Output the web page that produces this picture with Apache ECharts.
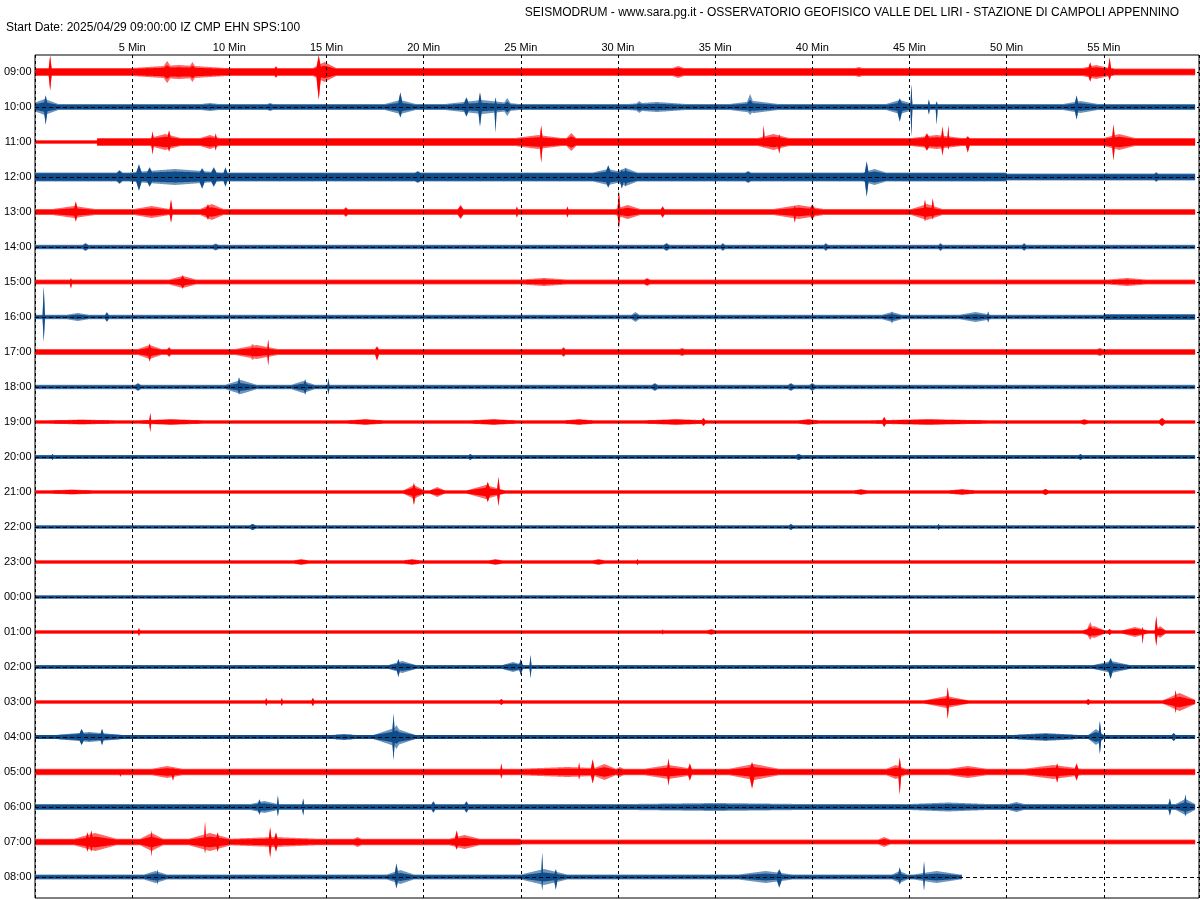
<!DOCTYPE html>
<html>
<head>
<meta charset="utf-8">
<script src="https://cdn.jsdelivr.net/npm/echarts@6/dist/echarts.min.js"></script>
<style>
html,body{margin:0;padding:0;background:#fff;}
#chart{width:1200px;height:900px;}
</style>
</head>
<body>
<div id="chart"></div>
<script>
const hourLabels = ['09:00','10:00','11:00','12:00','13:00','14:00','15:00','16:00','17:00','18:00','19:00','20:00',
                    '21:00','22:00','23:00','00:00','01:00','02:00','03:00','04:00','05:00','06:00','07:00','08:00'];
const minuteTicks = [5,10,15,20,25,30,35,40,45,50,55];
// minute at which each hourly trace stops
const traceEnd = [59.7,59.7,59.7,59.7,59.7,59.7,59.7,59.7,59.7,59.7,59.7,59.7,
                  59.7,59.7,59.7,59.7,59.7,59.7,59.7,59.7,59.7,59.7,59.7,47.7];
// background noise half-amplitude per trace: [fromMinute, amplitude]
const noiseLevels = [
  [[0,4],[55.5,3.5]], [[0,3]], [[0,1.6],[3.2,4]], [[0,4.5],[50,3.5]],
  [[0,3]], [[0,2.3]], [[0,2.5]], [[0,2.3],[55,3]],
  [[0,3]], [[0,2.3]], [[0,1.5]], [[0,1.7]],
  [[0,1.5]], [[0,1.6]], [[0,1.4]], [[0,1.6]],
  [[0,1.4]], [[0,1.7]], [[0,1.4]], [[0,1.9]],
  [[0,3.2]], [[0,3]], [[0,3.2],[25,2.6]], [[0,2.5]]
];
// seismic bursts per trace: [centreMinute, durationMinutes, amplitudeUp, amplitudeDown(optional)]
const ev09 = [[0.78,0.15,17,19],[7.4,4.8,7],[6.8,0.5,11],[8.1,0.4,10],[12.4,0.15,6],[14.6,0.25,17,28],[14.9,1.2,10],[33.1,0.6,6],[42.4,0.4,5],[54.6,1.4,7],[54.3,0.2,10],[55.3,0.15,15,9]];
const ev10 = [[0.5,1.4,8],[0.55,0.2,12,18],[9.0,0.9,4],[12.1,0.3,4],[18.8,1.6,7],[18.8,0.25,15,11],[23,3.8,7],[22.2,0.3,10],[22.9,0.2,15,20],[23.7,0.12,10,26],[24.3,0.4,9],[31.1,0.4,6],[32,3,5],[37,2.5,6],[36.8,0.4,13,8],[44.5,1.4,7],[44.5,0.3,9,15],[45.1,0.1,23,30],[46.0,0.1,8],[46.4,0.1,6,18],[53.8,1.8,6],[53.6,0.2,12,13]];
const ev11 = [[6.7,1.6,8],[6.05,0.12,11,13],[6.9,0.2,12,10],[9.0,1.0,7],[9.3,0.12,9],[25.9,2.4,7],[26.05,0.15,17,21],[27.6,0.5,9],[38.0,1.6,8],[37.5,0.1,17,6],[38.3,0.15,8,12],[46.4,2.6,7],[45.9,0.3,9],[46.7,0.15,16,14],[47.0,0.1,17,8],[48.0,0.2,6,11],[55.8,1.6,8],[55.5,0.15,18,19]];
const ev12 = [[4.35,0.3,7],[7.2,4.8,8],[5.35,0.3,13,14],[5.9,0.3,10],[8.6,0.3,9,12],[9.2,0.3,10],[9.8,0.2,10],[19.7,0.3,6],[29.5,1.6,8],[29.5,0.3,12,11],[30.4,1.2,9],[30.2,0.2,8,12],[30.4,0.15,10],[36.7,0.3,6],[43.2,1.2,8],[42.8,0.2,16,20],[57.7,0.2,5]];
const ev13 = [[2.0,2.2,6],[2.1,0.2,11,10],[6.0,1.8,6],[7.0,0.15,13,11],[9.1,1.2,8],[8.9,0.3,8],[16.0,0.2,5],[21.9,0.3,7],[24.8,0.1,6],[27.4,0.1,6],[30.5,1.3,7],[30.05,0.15,22,17],[32.3,0.2,6],[39.3,2.6,7],[39.1,0.15,7,11],[40.0,0.3,8],[45.9,1.6,8],[45.8,0.15,13,10],[46.2,0.15,14,8]];
const ev14 = [[2.6,0.3,4],[9.3,0.3,3.5],[32.5,0.3,4],[35.4,0.2,4],[40.7,0.2,4],[46.6,0.2,4],[50.9,0.2,4]];
const ev15 = [[1.85,0.1,4,7],[7.6,1.4,6],[7.6,0.3,7],[26.2,2.4,4],[31.5,0.3,4],[40.0,0.1,3,5],[56.2,2,4]];
const ev16 = [[0.45,0.12,31,25],[2.2,1.1,4],[3.7,0.2,5],[30.9,0.4,5],[44.1,1,5],[44.1,0.1,6,7],[48.4,1.6,5],[49.05,0.1,6]];
const ev17 = [[5.9,1.2,7],[5.9,0.2,9,10],[6.9,0.2,5],[11.4,2.2,7],[11.2,0.5,8],[12.0,0.1,13,14],[17.6,0.2,6,9],[27.2,0.2,5],[33.3,0.3,4],[54.8,0.3,4]];
const ev18 = [[5.3,0.3,4],[10.6,1.6,7],[10.5,0.2,10,8],[13.8,1.2,6],[13.9,0.2,8],[15.1,0.1,9,8],[31.9,0.3,4],[38.9,0.3,4],[40.0,0.3,4]];
const ev19 = [[2.4,3.8,2.5],[7,3.5,3],[5.93,0.1,9,10],[17,2,3],[23.6,2.5,3],[28,1.6,3],[33,3.5,3],[34.4,0.2,4],[39.8,1.1,3],[46,6.5,3],[43.7,0.2,5],[54,0.4,3],[58,0.3,4]];
const ev20 = [[0.9,0.1,3],[22.4,0.2,3],[39.3,0.3,3],[53.8,0.2,3]];
const ev21 = [[1.9,2.4,2.5],[19.5,1.1,7],[19.5,0.2,9,13],[20.7,0.8,5],[23.2,2,7],[23.3,0.3,10],[23.85,0.15,15,14],[42.5,0.7,3],[47.7,1.4,3],[52,0.3,3]];
const ev22 = [[11.2,0.3,3],[38.9,0.2,3],[46.5,0.1,3]];
const ev23 = [[13.7,0.9,3],[19.4,1,3],[23.7,0.8,3],[29,0.7,3],[31,0.1,3]];
const ev00 = [];
const ev01 = [[5.35,0.1,4],[32.3,0.1,2.5],[34.8,0.5,3],[54.5,1.2,6],[54.3,0.4,10,8],[55.3,0.2,3],[56.6,1.4,5],[57.0,0.1,5,12],[57.7,0.15,16,14],[57.9,0.6,6]];
const ev02 = [[18.9,1.5,6],[18.7,0.2,8,10],[24.6,1.2,5],[25.0,0.2,8],[25.5,0.1,12,11],[55.4,2,6],[55.35,0.3,9,12]];
const ev03 = [[11.9,0.1,4],[12.7,0.1,4],[14.3,0.15,4],[24,0.2,3],[46.9,2.4,6],[46.97,0.15,15,17],[54.2,0.2,3],[58.9,1.8,9],[58.7,0.15,12,11]];
const ev04 = [[2.8,3.6,5],[2.4,0.3,8],[3.45,0.2,8],[15.9,1.4,3],[18.5,2.2,9],[18.6,0.6,12],[18.45,0.15,23,23],[52,3.6,4],[54.6,0.8,8],[54.8,0.15,16,17],[58.6,0.2,4]];
const ev05 = [[4.4,0.1,3,5],[6.8,1.6,6],[7.1,0.15,5,9],[24.0,0.1,9,7],[27.4,5,5],[28.0,0.1,10,8],[28.7,0.2,13,12],[29.3,1.2,8],[30.1,0.4,5],[32.6,2.5,7],[32.6,0.15,14,14],[33.7,0.2,9],[37.0,2.6,8],[36.9,0.3,10,17],[44.3,1,7],[44.5,0.15,15,23],[48,2,6],[52.4,3,7],[52.6,0.2,9,11],[53.6,0.2,9]];
const ev06 = [[11.8,1.4,6],[11.55,0.2,8],[12.5,0.1,12,10],[13.8,0.1,9],[20.5,0.2,6],[22.2,0.2,6],[35,9,4],[47,4,4.5],[50.5,0.8,5],[59.2,1,8],[58.4,0.15,9],[59.2,0.15,13,10]];
const ev07 = [[3.1,2.2,9],[2.7,0.2,10],[2.9,0.2,12,10],[6.0,1.2,9],[6.0,0.1,12,15],[9.0,2.2,9],[8.75,0.1,21,12],[9.4,0.2,10],[12.3,4.6,5],[12.1,0.15,15,16],[12.4,0.2,10],[16.6,0.4,5],[22.1,1.6,7],[21.7,0.2,12,8],[43.7,0.6,5]];
const ev08 = [[6.2,1.2,6],[6.3,0.1,8],[18.8,1.4,7],[18.6,0.2,14,12],[26.2,2.4,8],[26.1,0.1,25,14],[26.8,0.2,8,13],[37.6,2.8,6],[38.3,0.3,8,11],[44.5,0.8,6],[44.5,0.2,10,8],[45.75,0.1,16,14],[46.4,2.4,6]];
const traceEvents = [ev09,ev10,ev11,ev12,ev13,ev14,ev15,ev16,ev17,ev18,ev19,ev20,
                     ev21,ev22,ev23,ev00,ev01,ev02,ev03,ev04,ev05,ev06,ev07,ev08];

// ---------------- RENDERING ----------------
const ROW_STEP = 35;
const X_MAX = 59.9;
const Y_MIN = -17, Y_MAX = 826;
const STEP = 0.01;
const RED = '#ff0000', BLUE = '#0f4c8c';

function noiseAt(levels, t) {
  let a = levels[0][1];
  for (const l of levels) if (t >= l[0]) a = l[1];
  return a;
}
// returns [outerUp, outerDown, coreUp, coreDown]
function envelope(r, t) {
  const n = noiseAt(noiseLevels[r], t);
  const nc = n > 2 ? n - 0.8 : n;
  let up = n, dn = n, cu = nc, cd = nc;
  for (const e of traceEvents[r]) {
    const h = e[1] / 2;
    const x = Math.abs(t - e[0]) / h;
    if (x >= 1) continue;
    const spike = e[1] <= 0.3;
    const s = 1 - x;
    const au = e[2], ad = e.length > 3 ? e[3] : e[2];
    const eu = (au - n) * s, ed = (ad - n) * s;
    up = Math.max(up, n + eu);
    dn = Math.max(dn, n + ed);
    const k = spike ? 1 : 0.5;
    cu = Math.max(cu, nc + eu * k);
    cd = Math.max(cd, nc + ed * k);
  }
  return [up, dn, cu, cd];
}
function clampY(v) { return Math.max(Y_MIN, Math.min(Y_MAX, v)); }

function traceItem(params, api) {
  const r = api.value(2);
  const base = r * ROW_STEP;
  const end = traceEnd[r];
  const oT = [], oB = [], cT = [], cB = [];
  const n = Math.round(end / STEP);
  for (let k = 0; k <= n; k++) {
    const t = Math.min(end, k * STEP);
    const [u, d, cu, cd] = envelope(r, t);
    oT.push(api.coord([t, clampY(base - u)]));
    oB.push(api.coord([t, clampY(base + d)]));
    cT.push(api.coord([t, clampY(base - cu)]));
    cB.push(api.coord([t, clampY(base + cd)]));
  }
  oB.reverse(); cB.reverse();
  const color = api.visual('color');
  return { type: 'group', children: [
    { type: 'polygon', shape: { points: oT.concat(oB) }, style: { fill: color, opacity: 0.6 } },
    { type: 'polygon', shape: { points: cT.concat(cB) }, style: { fill: color } }
  ] };
}
function baselineItem(params, api) {
  const r = api.value(2);
  const p0 = api.coord([0, r * ROW_STEP]);
  const p1 = api.coord([X_MAX, r * ROW_STEP]);
  const y = Math.round(p0[1]) + 0.5;
  return { type: 'line', shape: { x1: p0[0], y1: y, x2: p1[0], y2: y },
           style: { stroke: '#000', lineWidth: 1, lineDash: [4, 3] } };
}

const redRows = [], blueRows = [], allRows = [];
hourLabels.forEach((h, i) => {
  const item = [0, i * ROW_STEP, i];
  allRows.push(item);
  (i % 2 === 0 ? redRows : blueRows).push(item);
});

const FONT = "'Liberation Sans', Arial, sans-serif";
const chart = echarts.init(document.getElementById('chart'), null, { renderer: 'canvas' });
chart.setOption({
  animation: false,
  backgroundColor: '#fff',
  title: [
    { text: 'SEISMODRUM - www.sara.pg.it - OSSERVATORIO GEOFISICO VALLE DEL LIRI - STAZIONE DI CAMPOLI APPENNINO',
      right: 21, top: 7, padding: 0,
      textStyle: { fontSize: 12, fontWeight: 'normal', color: '#000', fontFamily: FONT } },
    { text: 'Start Date: 2025/04/29 09:00:00 IZ CMP EHN SPS:100',
      left: 6, top: 22, padding: 0,
      textStyle: { fontSize: 12, fontWeight: 'normal', color: '#000', fontFamily: FONT } }
  ],
  grid: { left: 35, right: 1, top: 55, bottom: 2, show: true, borderColor: '#000', borderWidth: 1, backgroundColor: '#fff' },
  xAxis: {
    type: 'value', position: 'top', min: 0, max: X_MAX, interval: 5, z: 10,
    axisLine: { show: false }, axisTick: { show: false },
    axisLabel: { customValues: minuteTicks, formatter: v => v + ' Min', margin: 2,
                 fontSize: 11, color: '#000', fontFamily: FONT },
    splitLine: { show: true, lineStyle: { color: '#000', width: 1, type: [3, 3] } }
  },
  yAxis: {
    type: 'value', inverse: true, min: Y_MIN, max: Y_MAX,
    axisLine: { show: false }, axisTick: { show: false }, splitLine: { show: false },
    axisLabel: { customValues: hourLabels.map((h, i) => i * ROW_STEP),
                 formatter: v => hourLabels[Math.round(v / ROW_STEP)], margin: 3.5,
                 fontSize: 11, color: '#000', fontFamily: FONT }
  },
  series: [
    { name: 'blue traces', type: 'custom', z: 2, itemStyle: { color: BLUE }, data: blueRows, renderItem: traceItem, silent: true },
    { name: 'baselines', type: 'custom', z: 3, data: allRows, renderItem: baselineItem, silent: true },
    { name: 'red traces', type: 'custom', z: 4, itemStyle: { color: RED }, data: redRows, renderItem: traceItem, silent: true }
  ]
});
</script>
</body>
</html>
